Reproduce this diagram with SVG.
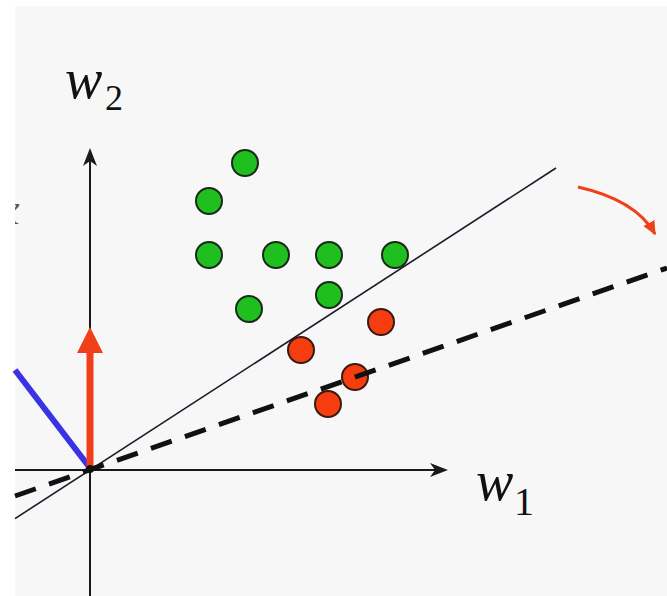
<svg xmlns="http://www.w3.org/2000/svg" width="667" height="596" viewBox="0 0 667 596">
  <style>
    .axis { stroke: #1a1a1a; stroke-width: 2; fill: none; }
    .green { fill: #1fbf1f; stroke: #1a2a1a; stroke-width: 2; }
    .red { fill: #f53d10; stroke: #3a1a10; stroke-width: 2; }
    .lbl { font-family: "Liberation Serif", "Times New Roman", serif; fill: #111; }
    .it { font-style: italic; }
  </style>
  <defs>
    <marker id="redHead" viewBox="0 0 10 10" refX="9" refY="5" markerWidth="14" markerHeight="14" markerUnits="userSpaceOnUse" orient="auto">
      <path d="M0,0.5 L10,5 L0,9.5 Z" fill="#f0401a"/>
    </marker>
    <clipPath id="leftClip">
      <rect x="15" y="6" width="652" height="590"/>
    </clipPath>
  </defs>

  <rect x="0" y="0" width="667" height="596" fill="#ffffff"/>
  <rect x="15" y="6" width="652" height="590" fill="#f7f7f7"/>

  <g id="partial-label" clip-path="url(#leftClip)">
    <text class="lbl it" x="0" y="224" font-size="44" fill-opacity="0.7">x</text>
  </g>

  <g id="connectors">
    <!-- axes -->
    <line id="axis-w2" class="axis" x1="90" y1="596" x2="90" y2="160"/>
    <path d="M90,148 L83,166 L90,161 L97,166 Z" fill="#1a1a1a"/>
    <line id="axis-w1" class="axis" x1="15" y1="470" x2="436" y2="470"/>
    <path d="M448,470 L430,463 L435,470 L430,477 Z" fill="#1a1a1a"/>
    <!-- solid separating line -->
    <line id="boundary" x1="15" y1="518.6" x2="556" y2="168" stroke="#1a1a2a" stroke-width="1.6"/>
    <!-- blue vector -->
    <line id="blue-vector" x1="90" y1="468" x2="15" y2="370" stroke="#3a33e6" stroke-width="6"/>
    <!-- red vector -->
    <line id="red-vector" x1="90" y1="470" x2="90" y2="350" stroke="#f0401a" stroke-width="7"/>
    <path d="M90,327 L77,353 L103,353 Z" fill="#f0401a"/>
    <!-- curved red rotation arrow -->
    <path id="rotation-arrow" d="M578,187 Q636,200 655,234" fill="none" stroke="#f0401a" stroke-width="3" marker-end="url(#redHead)"/>
  </g>

  <g id="points">
    <g id="green-1"><circle class="green" cx="245" cy="163" r="13"/></g>
    <g id="green-2"><circle class="green" cx="209" cy="201" r="13"/></g>
    <g id="green-3"><circle class="green" cx="209" cy="255" r="13"/></g>
    <g id="green-4"><circle class="green" cx="276" cy="255" r="13"/></g>
    <g id="green-5"><circle class="green" cx="329" cy="255" r="13"/></g>
    <g id="green-6"><circle class="green" cx="395" cy="255" r="13"/></g>
    <g id="green-7"><circle class="green" cx="329" cy="295" r="13"/></g>
    <g id="green-8"><circle class="green" cx="249" cy="309" r="13"/></g>
    <g id="red-1"><circle class="red" cx="381" cy="322" r="13"/></g>
    <g id="red-2"><circle class="red" cx="301" cy="350" r="13"/></g>
    <g id="red-3"><circle class="red" cx="355" cy="377" r="13"/></g>
    <g id="red-4"><circle class="red" cx="328" cy="404" r="13"/></g>
  </g>

  <g id="dashed-boundary">
    <line x1="15" y1="496" x2="667" y2="268" stroke="#111" stroke-width="5" stroke-dasharray="22 14"/>
    <circle cx="90" cy="469" r="4" fill="#111"/>
  </g>

  <g id="label-w2">
    <text class="lbl it" x="65" y="98" font-size="56">w</text>
    <text class="lbl" x="105" y="110" font-size="36">2</text>
  </g>
  <g id="label-w1">
    <text class="lbl it" x="476" y="500" font-size="56">w</text>
    <text class="lbl" x="514" y="515" font-size="40">1</text>
  </g>
</svg>
